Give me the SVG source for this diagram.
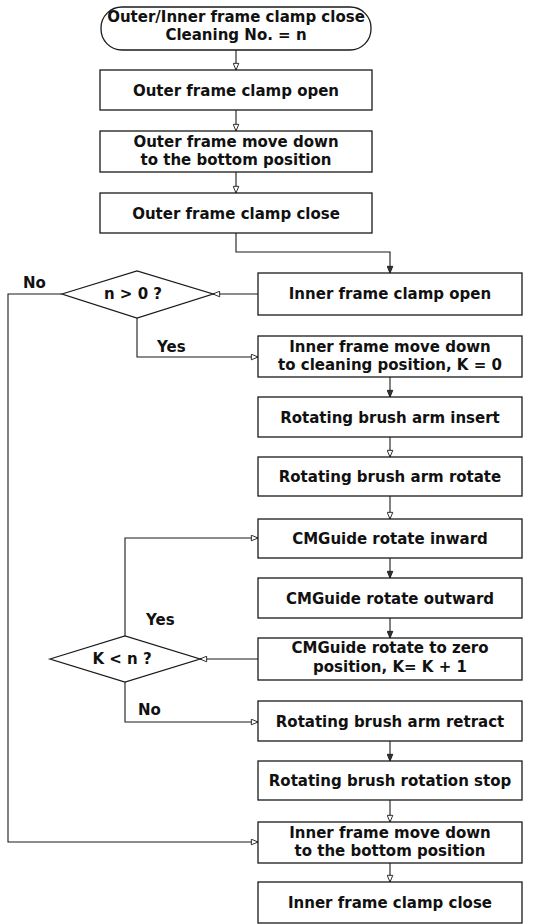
<svg xmlns="http://www.w3.org/2000/svg" width="536" height="924" viewBox="0 0 536 924">
<style>
.box{fill:#fff;stroke:#1a1a1a;stroke-width:1.3}
.t{font-family:"DejaVu Sans","Liberation Sans",sans-serif;font-weight:bold;font-size:15px;fill:#111;text-anchor:middle}
.lbl{font-family:"DejaVu Sans","Liberation Sans",sans-serif;font-weight:bold;font-size:15px;fill:#111}
.c{fill:none;stroke:#1a1a1a;stroke-width:1.1}
.h{marker-end:url(#ho)}
.f{marker-end:url(#fi)}
</style>
<defs>
<marker id="ho" viewBox="0 0 10 10" refX="10" refY="5" markerWidth="9" markerHeight="7" orient="auto" markerUnits="userSpaceOnUse"><path d="M0.5,1 L10,5 L0.5,9 z" fill="#fff" stroke="#1a1a1a" stroke-width="1.3"/></marker>
<marker id="fi" viewBox="0 0 10 10" refX="10" refY="5" markerWidth="9" markerHeight="7" orient="auto" markerUnits="userSpaceOnUse"><path d="M0.5,1 L10,5 L0.5,9 z" fill="#333" stroke="#1a1a1a" stroke-width="1.3"/></marker>
</defs>
<g id="connectors">
<path class="c h" d="M236,50 V70"/>
<path class="c h" d="M236,110 V131"/>
<path class="c h" d="M236,172 V193"/>
<path class="c f" d="M236,233 V252 H390 V273"/>
<path class="c h" d="M258,294 H213"/>
<path class="c h" d="M137,318 V357 H258"/>
<path class="c h" d="M62,294 H8 V842 H258"/>
<path class="c f" d="M390,377 V397"/>
<path class="c h" d="M390,437 V457"/>
<path class="c h" d="M390,496 V519"/>
<path class="c f" d="M390,558 V578"/>
<path class="c f" d="M390,618 V638"/>
<path class="c h" d="M258,659 H200"/>
<path class="c h" d="M125,636 V538 H258"/>
<path class="c h" d="M125,682 V722 H258"/>
<path class="c f" d="M390,741 V761"/>
<path class="c h" d="M390,800 V822"/>
<path class="c h" d="M390,863 V882"/>
</g>
<g id="start"><rect class="box" x="101" y="7" width="270" height="43" rx="21" ry="21"/><text class="t" x="236" y="22">Outer/Inner frame clamp close</text><text class="t" x="236" y="40">Cleaning No. = n</text></g>
<g id="outer-open"><rect class="box" x="100" y="70" width="272" height="40"/><text class="t" x="236" y="96">Outer frame clamp open</text></g>
<g id="outer-down"><rect class="box" x="100" y="131" width="272" height="41"/><text class="t" x="236" y="147">Outer frame move down</text><text class="t" x="236" y="165">to the bottom position</text></g>
<g id="outer-close"><rect class="box" x="100" y="193" width="272" height="40"/><text class="t" x="236" y="219">Outer frame clamp close</text></g>
<g id="inner-open"><rect class="box" x="258" y="273" width="264" height="42"/><text class="t" x="390" y="299">Inner frame clamp open</text></g>
<g id="dec-n"><path class="box" d="M62,294 L137,271 L213,294 L137,318 Z"/><text class="t" x="133" y="299">n &gt; 0 ?</text></g>
<g id="inner-clean"><rect class="box" x="258" y="336" width="264" height="41"/><text class="t" x="390" y="352">Inner frame move down</text><text class="t" x="390" y="370">to cleaning position, K = 0</text></g>
<g id="arm-insert"><rect class="box" x="258" y="397" width="264" height="40"/><text class="t" x="390" y="423">Rotating brush arm insert</text></g>
<g id="arm-rotate"><rect class="box" x="258" y="457" width="264" height="39"/><text class="t" x="390" y="482">Rotating brush arm rotate</text></g>
<g id="cm-in"><rect class="box" x="258" y="519" width="264" height="39"/><text class="t" x="390" y="544">CMGuide rotate inward</text></g>
<g id="cm-out"><rect class="box" x="258" y="578" width="264" height="40"/><text class="t" x="390" y="604">CMGuide rotate outward</text></g>
<g id="cm-zero"><rect class="box" x="258" y="638" width="264" height="42"/><text class="t" x="390" y="653">CMGuide rotate to zero</text><text class="t" x="390" y="672">position, K= K + 1</text></g>
<g id="dec-k"><path class="box" d="M50,659 L125,636 L200,659 L125,682 Z"/><text class="t" x="122" y="664">K &lt; n ?</text></g>
<g id="arm-retract"><rect class="box" x="258" y="701" width="264" height="40"/><text class="t" x="390" y="727">Rotating brush arm retract</text></g>
<g id="rot-stop"><rect class="box" x="258" y="761" width="264" height="39"/><text class="t" x="390" y="786">Rotating brush rotation stop</text></g>
<g id="inner-down"><rect class="box" x="258" y="822" width="264" height="41"/><text class="t" x="390" y="838">Inner frame move down</text><text class="t" x="390" y="856">to the bottom position</text></g>
<g id="inner-close"><rect class="box" x="258" y="882" width="264" height="41"/><text class="t" x="390" y="908">Inner frame clamp close</text></g>
<g id="labels">
<text class="lbl" x="23" y="288">No</text>
<text class="lbl" x="157" y="352">Yes</text>
<text class="lbl" x="146" y="625">Yes</text>
<text class="lbl" x="138" y="715">No</text>
</g>
</svg>
